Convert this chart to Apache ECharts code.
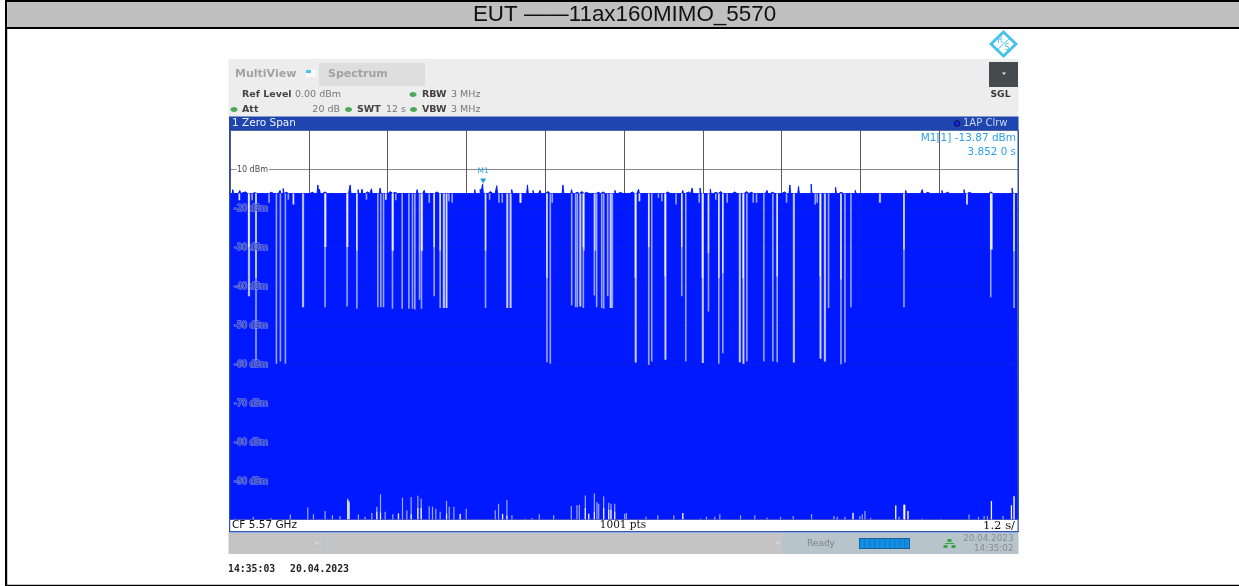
<!DOCTYPE html>
<html>
<head>
<meta charset="utf-8">
<title>EUT 11ax160MIMO_5570</title>
<script src="https://cdn.jsdelivr.net/npm/echarts@6/dist/echarts.min.js"></script>
<style>
    html, body { margin: 0; padding: 0; background: #fff; }
    #chart { width: 1239px; height: 586px; }
</style>
</head>
<body>
<div id="chart"></div>
<script>
// Trace level in dBm, x positions are sweep points (0..1000, 12 s)
const traceLevel = -16.3;
const dbmTicks = [-10, -20, -30, -40, -50, -60, -70, -80, -90];
const innerGridLevels = [-20, -30, -40, -50, -60];
const marker = [321.3, -13.87];

// [point, dBm] where the trace pokes above its usual level
const tracePeaks = [
    [4.2, -15.3], [8.5, -15.8], [12.7, -15.5], [16, -16.1], [19, -15.9], [23, -16], [27, -15.9], [31, -16.1], [36, -15.9], [44, -15.9], [52, -16],
    [57, -15.9], [63.5, -15.5], [67.7, -15.0], [71, -16], [75, -15.9], [82, -16], [88, -15.9], [97, -15.9], [104, -16], [112.2, -14.1], [114.3, -15.2],
    [120, -15.9], [127, -15.9], [133, -16], [139, -15.8], [146, -15.9], [152.5, -14.1], [157, -16], [163, -15.3], [168, -15.2], [174, -15.9], [180, -15.1],
    [185, -15.9], [190.5, -14.9], [198, -15.9], [203, -15.8], [209, -16], [214, -15.9], [220, -16], [226, -15.8], [232, -15.9], [238, -15.3], [247, -15.5],
    [255, -15.9], [262, -15.9], [270, -16], [278, -15.9], [284, -16], [290, -15.9], [296, -16], [303, -15.8], [311, -15.3], [318, -15.2], [321.3, -13.87],
    [326, -16], [330, -15.8], [338.7, -14.3], [344, -15.9], [349, -15.9], [357.8, -15.3], [362, -16], [366, -15.9], [372, -15.9], [378, -14.1], [385, -15.5],
    [393.8, -15.5], [398, -16], [403, -15.8], [410, -16], [416, -15.8], [422.6, -14.1], [428, -15.9], [434, -15.3], [440, -16], [446, -15.8], [452, -16],
    [459.4, -15.8], [467, -16], [473, -15.9], [480, -15.9], [489, -15.5], [495, -16], [500, -15.9], [505, -16], [510, -15.9], [518.7, -15.2], [524, -15.9],
    [530, -15.9], [538, -16], [547, -15.8], [555, -15.9], [560, -16], [565.3, -15.8], [575, -15.5], [581, -15.9], [586.5, -14.9], [592, -15.9], [597, -14.9],
    [604, -15.9], [609.8, -15.2], [616, -16], [622, -15.8], [632, -16], [640, -15.9], [648, -16], [655, -15.8], [661, -16], [668, -15.9], [675, -16],
    [681.7, -15.5], [688, -16], [695, -15.8], [703, -15.9], [711.4, -14.1], [716, -16], [722, -14.5], [730, -15.9], [737.6, -13.9], [745, -16], [752, -15.8],
    [760, -15.9], [768.5, -14.7], [775, -16], [783, -15.8], [794, -15.5], [801, -15.9], [808, -15.9], [814, -16], [820, -15.9], [829, -16], [838, -15.8],
    [847, -16], [857.5, -15.5], [863, -16], [868, -15.9], [878.6, -15.3], [885, -16], [892, -15.8], [898, -16], [904, -15.5], [910, -16], [917, -15.8],
    [924, -16], [931.6, -15.3], [938, -16], [945, -15.8], [951, -16], [958, -15.9], [965, -15.9], [972, -15.9], [978, -16], [984, -15.8], [993, -14.9], [998, -15.9]
];

// [point, dBm] down to where the trace stays open below its top
const traceNotches = [
    [23.7, -42.7], [24.5, -42.7], [33, -59.4], [58.9, -60], [64, -59.4], [70.3, -60], [92.3, -45.5], [93.1, -45.5], [120.7, -45.5], [121.5, -30],
    [148.6, -45.3], [149.4, -30], [161, -45.9], [187.6, -45.5], [191.4, -45.5], [194.8, -45.5], [206.2, -45.9], [207, -31], [218.5, -45.9],
    [227, -45.9], [231.6, -45.9], [234.6, -46.1], [240.5, -43.6], [243, -45.9], [244, -31],
    [259.1, -42.7], [266.7, -45.7], [271, -45.7], [271.8, -45.7], [274.4, -45.7], [275.2, -45.7], [324.3, -45.7], [351.4, -45.7], [352.3, -45.7],
    [355.7, -45.7], [356.5, -45.7], [402.2, -59.6], [406.5, -60], [433.6, -45], [438.6, -45.5], [440.8, -45.5], [444.1, -45.3], [445, -45.3],
    [448.4, -45.7], [449.2, -31], [462.4, -42.5], [463.2, -31], [465.3, -45.5], [471.7, -45.7], [474.2, -45.9], [479.3, -42.7], [482.7, -45.7],
    [483.5, -45.7], [485.2, -45.7],
    [514.5, -59.7], [515.3, -59.7], [531.4, -60.3], [535.2, -59.4], [552.2, -59], [553, -59], [573.3, -42.7], [578.4, -59.4], [599.6, -59.8],
    [600.5, -59.8], [607.2, -46.6], [620.3, -60], [625.4, -57.3], [646.6, -59.6], [647.4, -59.6], [651.2, -60], [652, -60], [655.9, -59.4],
    [677.5, -59.4], [688.9, -59.4], [694.4, -59.6], [715.2, -59.7], [716, -59.7], [749, -58.7], [749.8, -58.7], [754.6, -59.4], [755.4, -59.4],
    [759.6, -45.7],
    [775.3, -60.1], [780.4, -59.7], [788, -45.5], [855.3, -45.5], [965.4, -42.9], [966.2, -30.7], [967, -30.7], [995, -45.7],
    [11.9, -18], [28, -18], [49.5, -18.7], [74.1, -17.9], [80.5, -19.1], [173.2, -17.9], [197.7, -17.9], [210.4, -18],
    [252.8, -18.7], [277.8, -18.3], [282, -18.7], [329.4, -17.9], [341.3, -18.7], [345.5, -18.7], [368.4, -18.7], [369.2, -18.7], [409, -18.7],
    [519.6, -18.3], [543.7, -17.4], [548, -18.3], [566.1, -19.1], [595.4, -18.7], [616.5, -17.9], [631, -18.7], [664, -18.7], [668.2, -18.7],
    [706.3, -18.7], [742.7, -19.1], [745.2, -18.7], [824.4, -18.7], [825.2, -18.7], [935.3, -19.1]
];

// [point, dBm] stretch of those notches that is fully open (near white)
const clearNotches = [
    [23.7, -30], [33, -38], [120.7, -30], [148.6, -30], [161, -31], [206.2, -31], [243, -31],
    [259.1, -30], [266.7, -31], [324.3, -31], [402.2, -38], [448.4, -30],
    [514.5, -38], [531.4, -30], [552.2, -37.6], [573.3, -30], [599.6, -38], [607.2, -31.6], [620.3, -38], [625.4, -36.7],
    [651.2, -38], [694.4, -37.6], [749, -37.6], [775.3, -38.4], [855.3, -30.7], [965.4, -30.7], [995, -31.1],
    [11.9, -18], [80.5, -19.1], [197.7, -17.9], [368.4, -18.7], [519.6, -18.3], [935.3, -19.1]
];

// [point, dBm] where the trace floor lifts off the bottom of the screen
const floorPeaks = [
    [6.4, -99.8], [29.6, -99.3], [52, -99.6], [76.6, -98.7], [98.7, -96.9], [105.9, -98.6], [120.7, -97.8], [130, -98.9], [139.7, -99.1],
    [149.5, -94.6], [151, -95.2], [163, -98.7], [171.5, -99.3], [180, -98.3], [186.3, -96.7], [191, -93.5], [196.9, -98], [206.6, -98.6], [213.8, -98.3],
    [218.9, -94.4], [224.4, -97.6], [229.9, -94.2], [238.4, -93.9], [242.6, -94.6], [252.8, -96.6], [257, -96.7], [261.2, -97.2], [266.7, -98],
    [274.8, -95.2], [278.2, -96.7], [284.1, -96.7], [292.1, -98.5], [299.8, -97.2], [336.6, -97.6], [340.8, -95.9], [345.9, -98.5], [351.4, -95],
    [357.8, -98.9], [374.7, -99.8], [383.2, -99.6], [392.5, -98.6], [410.7, -98.9], [433.1, -96.5], [440.3, -96.3], [443.3, -96.2], [450.9, -93.8],
    [455.2, -98.5], [462.4, -93.3], [465.7, -95.5], [467.9, -95.9], [474.2, -94], [480.6, -95.7], [483.5, -95.9], [488.2, -95.9], [500.9, -98.5],
    [503, -98.3], [528, -99.3], [542.9, -98.9], [563.2, -98.9], [574.6, -98.3], [597, -99.7], [604.7, -99.3], [615.3, -99.3], [621.6, -98.6],
    [647.9, -98.9], [666, -98.9], [681.7, -99.5], [698.7, -99.3], [714.8, -99.1], [738, -98.6], [766.4, -99.1], [770.7, -99.3], [780.4, -99.3],
    [790.6, -98.2], [799.4, -99.1], [802.4, -98.6], [805.8, -97.8], [813, -99.5], [844.8, -96.4], [849, -99.3], [855.3, -96.2], [856.2, -96.2], [860.4, -97.8],
    [878.6, -99.7], [902, -99.8], [937.9, -98.7], [949.8, -99.3], [957, -99.1], [961.2, -99.1], [966.3, -95.2], [981.1, -99.1], [991.7, -96.3], [995, -94]
];

// [point, dBm] fully open part of the floor peaks
const clearFloorPeaks = [
    [149.5, -95], [151, -95.6], [186.3, -98], [191, -98.2], [213.8, -98.5], [229.9, -98.6], [238.4, -97], [242.6, -97], [274.8, -98.5], [292.1, -98.6],
    [345.9, -98.6], [351.4, -99], [450.9, -97], [455.2, -98.5], [462.4, -98], [474.2, -97], [480.6, -97.5], [483.5, -97.5], [488.2, -98],
    [844.8, -96.4], [855.3, -96.2], [856.2, -96.2], [860.4, -97.8], [966.3, -95.2], [991.7, -96.3], [995, -94], [790.6, -98.4], [574.6, -98.4]
];

const textFont = '"DejaVu Sans"';

// Builds the full 1001 point upper edge of the trace from its level and peaks
function buildTraceEdge() {
    const edge = [];
    for (let pt = 0; pt <= 1000; pt++) edge.push([pt, traceLevel]);
    tracePeaks.forEach(p => { edge[Math.round(p[0])][1] = p[1]; });
    return edge;
}

// One thin open column per item, between two levels of the y axis
function gapSeries(name, data, opacity, width, extra) {
    return Object.assign({
        name: name,
        type: 'custom',
        silent: true,
        z: 5,
        clip: true,
        encode: { x: 0, y: [1, 2] },
        data: data,
        renderItem(params, api) {
            const x = api.coord([api.value(0), 0])[0];
            const yTop = api.coord([0, api.value(1)])[1];
            const yBottom = api.coord([0, api.value(2)])[1];
            return {
                type: 'rect',
                shape: { x: x - width / 2, y: yTop, width: width, height: yBottom - yTop },
                style: { fill: '#ffffff', opacity: opacity }
            };
        }
    }, extra || {});
}

function rect(x, y, w, h, fill, extra) {
    return Object.assign({ type: 'rect', z: 50, silent: true, shape: { x: x, y: y, width: w, height: h }, style: { fill: fill } }, extra || {});
}

function label(text, x, y, color, size, weight, align, font) {
    return {
        type: 'text', z: 60, silent: true,
        style: {
            text: text, x: x, y: y, fill: color, align: align || 'left', verticalAlign: 'middle',
            font: (weight || 'normal') + ' ' + size + 'px ' + (font || textFont)
        }
    };
}

function dot(x, y) {
    return { type: 'ellipse', z: 60, silent: true, shape: { cx: x, cy: y, rx: 3.5, ry: 2.4 }, style: { fill: '#4fa85a' } };
}

function progressSegments() {
    const parts = [rect(859, 538, 51, 11, '#1b5f96'), rect(860, 539, 49, 9, '#0f8fe6')];
    [864.5, 869.5, 874.5, 879.5, 884.5, 889.5, 894.5, 899.5, 904.5].forEach(x => parts.push(rect(x, 539, 0.8, 9, '#1b6fb0')));
    return parts;
}

const chrome = [
    // page frame
    rect(5, 0, 1234, 2, '#000'),
    rect(5, 0, 2.2, 586, '#000'),
    rect(5, 584.8, 1234, 1.2, '#000'),
    rect(7.8, 2, 1231.2, 25, '#c0c0c0'),
    rect(5, 27, 1234, 2, '#000'),
    label('EUT ——11ax160MIMO_5570', 624.5, 15, '#111', 22.4, 'normal', 'center', '"Liberation Sans"'),

    // R&S logo
    { type: 'polygon', z: 60, silent: true, shape: { points: [[1003.5, 32], [1016, 44], [1003.5, 56], [991, 44]] }, style: { fill: '#fff', stroke: '#41c3ec', lineWidth: 2.8 } },
    { type: 'line', z: 60, silent: true, shape: { x1: 997, y1: 50, x2: 1010, y2: 38 }, style: { stroke: '#41c3ec', lineWidth: 1 } },
    label('R', 1000, 41, '#41c3ec', 8, 'normal', 'center'),
    label('S', 1007, 47.5, '#41c3ec', 8, 'normal', 'center'),

    // instrument header
    rect(228.5, 59, 790, 58, '#ededed'),
    label('MultiView', 235, 74.5, '#a2a2a2', 11, 'bold'),
    rect(306, 70, 5, 3, '#49c4ee'), rect(311, 70, 5, 3, '#fff'), rect(306, 73.5, 5, 3, '#fff'), rect(311, 73.5, 5, 3, '#fff'),
    rect(319, 63, 106, 23, '#dedede'),
    label('Spectrum', 328, 74, '#a2a2a2', 11, 'bold'),
    rect(989, 62, 29, 25, '#454a4d'),
    { type: 'polygon', z: 60, silent: true, shape: { points: [[1002, 72.5], [1006, 72.5], [1004, 75]] }, style: { fill: '#e8e8e8' } },
    label('SGL', 1000.5, 95, '#3a3a3a', 9.2, 'bold', 'center'),
    label('Ref Level', 242, 94.5, '#444', 9.5, 'bold'),
    label('0.00 dBm', 295, 94.5, '#777', 9.5),
    dot(413, 94.5),
    label('RBW', 422, 94.5, '#444', 9.5, 'bold'),
    label('3 MHz', 451, 94.5, '#777', 9.5),
    dot(234, 109.5),
    label('Att', 242, 109.5, '#444', 9.5, 'bold'),
    label('20 dB', 340, 109.5, '#777', 9.5, 'normal', 'right'),
    dot(348.5, 109.5),
    label('SWT', 357, 109.5, '#444', 9.5, 'bold'),
    label('12 s', 386, 109.5, '#777', 9.5),
    dot(413.5, 109.5),
    label('VBW', 422, 109.5, '#444', 9.5, 'bold'),
    label('3 MHz', 451, 109.5, '#777', 9.5),

    // window title bar
    rect(229, 116.5, 789.5, 14, '#1e46ae'),
    label('1 Zero Span', 232, 123.5, '#eef2ff', 10.5),
    { type: 'circle', z: 60, silent: true, shape: { cx: 957, cy: 123.5, r: 2.8 }, style: { fill: '#1a1aff', stroke: '#0b1024', lineWidth: 1 } },
    label('1AP Clrw', 963, 123.5, '#c9d6f2', 10),
    label('M1[1] -13.87 dBm', 1016, 138, '#2ba0e8', 10.5, 'normal', 'right'),
    label('3.852 0 s', 1016, 152.5, '#2ba0e8', 10.4, 'normal', 'right'),

    // window frame and status strip
    rect(229, 130, 1.2, 402, '#2a50b0'),
    rect(1017.5, 130, 1.2, 402, '#2a50b0'),
    rect(229, 531, 789.5, 1.4, '#2f59b8'),
    label('CF 5.57 GHz', 232, 525.5, '#111', 10.5),
    label('1001 pts', 623, 525.5, '#111', 10.5, 'normal', 'center', '"DejaVu Serif"'),
    label('1.2 s/', 1015, 525.5, '#111', 11.6, 'normal', 'right', '"DejaVu Serif"'),

    // bottom bar
    rect(228.5, 533, 554, 21, '#c4c4c4'),
    rect(322, 533, 2, 21, '#b8c4cc'),
    rect(782, 533, 236.5, 21, '#b8c4cc'),
    { type: 'polygon', z: 60, silent: true, shape: { points: [[314, 542], [320, 542], [317, 545]] }, style: { fill: '#d8d8d8' } },
    { type: 'polygon', z: 60, silent: true, shape: { points: [[775, 542], [781, 542], [778, 545]] }, style: { fill: '#d8d8d8' } },
    label('Ready', 807, 543.5, '#7d8388', 9),
    ...progressSegments(),
    rect(947.5, 539, 4, 3, '#3aa53f'), rect(943.5, 545, 4, 3, '#3aa53f'), rect(951.5, 545, 4, 3, '#3aa53f'), rect(945, 543, 9, 1, '#3aa53f'),
    label('20.04.2023', 1013.5, 539, '#858d93', 8.8, 'normal', 'right'),
    label('14:35:02', 1013.5, 548.5, '#858d93', 8.8, 'normal', 'right'),
    label('14:35:03', 228, 569, '#222', 9.8, 'bold', 'left', '"DejaVu Sans Mono"'),
    label('20.04.2023', 290, 569, '#222', 9.8, 'bold', 'left', '"DejaVu Sans Mono"')
];

const chart = echarts.init(document.getElementById('chart'), null, { renderer: 'canvas' });

const option = {
    animation: false,
    backgroundColor: '#ffffff',
    grid: { left: 230, right: 221, top: 130, bottom: 66.4, show: false },
    xAxis: {
        type: 'value',
        min: 0,
        max: 1000,
        interval: 100,
        axisLine: { show: false },
        axisTick: { show: false },
        axisLabel: { show: false },
        splitLine: { show: true, lineStyle: { color: '#5a5a5a', width: 1 } }
    },
    yAxis: [
        {
            // grid lines, sit behind the trace
            type: 'value',
            min: -100,
            max: 0,
            interval: 10,
            axisLine: { show: false },
            axisTick: { show: false },
            axisLabel: { show: false },
            splitLine: { show: true, lineStyle: { color: '#8a8a8a', width: 1 } }
        },
        {
            // level labels, sit on top of the trace
            type: 'value',
            min: -100,
            max: 0,
            interval: 10,
            z: 20,
            position: 'left',
            axisLine: { show: false },
            axisTick: { show: false },
            splitLine: { show: false },
            axisLabel: {
                show: true,
                inside: true,
                margin: 4,
                formatter(value) {
                    if (!dbmTicks.includes(value)) return '';
                    return value === -10 ? `{top|${value} dBm}` : `{inner|${value} dBm}`;
                },
                rich: {
                    top: { color: '#4a4a4a', fontFamily: textFont, fontSize: 8, backgroundColor: '#fff', padding: [2, 1, 0, 0] },
                    inner: {
                        color: '#2b3a90', fontFamily: textFont, fontSize: 8, padding: [2, 0, 0, 0],
                        textBorderColor: 'rgba(150,165,255,0.7)', textBorderWidth: 1.4
                    }
                }
            }
        }
    ],
    graphic: { elements: chrome },
    series: [
        {
            name: 'Trace',
            type: 'line',
            silent: true,
            z: 3,
            yAxisIndex: 0,
            step: 'middle',
            showSymbol: false,
            sampling: null,
            data: buildTraceEdge(),
            lineStyle: { color: '#0019ff', width: 1 },
            areaStyle: { color: '#0019ff', opacity: 1, origin: 'start' },
            markPoint: {
                silent: true,
                symbol: 'triangle',
                symbolRotate: 180,
                symbolSize: [6, 5],
                symbolOffset: [0, -3],
                itemStyle: { color: '#1e9be8' },
                label: {
                    show: true,
                    formatter: 'M1',
                    position: 'top',
                    distance: 3,
                    color: '#2ba0e8',
                    fontFamily: textFont,
                    fontSize: 7.5
                },
                data: [{ coord: marker }]
            }
        },
        gapSeries('Notches', traceNotches.map(n => [n[0], traceLevel, n[1]]), 0.6, 1.6, {
            markLine: {
                silent: true,
                symbol: 'none',
                animation: false,
                label: { show: false },
                lineStyle: { color: '#0f1fd8', width: 1, type: 'solid', opacity: 0.6 },
                data: innerGridLevels.map(v => ({ yAxis: v }))
            }
        }),
        gapSeries('Clear notches', clearNotches.map(n => [n[0], traceLevel, n[1]]), 0.7, 1.5),
        gapSeries('Floor peaks', floorPeaks.map(n => [n[0], n[1], -100]), 0.62, 1.2),
        gapSeries('Clear floor peaks', clearFloorPeaks.map(n => [n[0], n[1], -100]), 0.85, 1.2)
    ]
};

option && chart.setOption(option);
</script>
</body>
</html>
